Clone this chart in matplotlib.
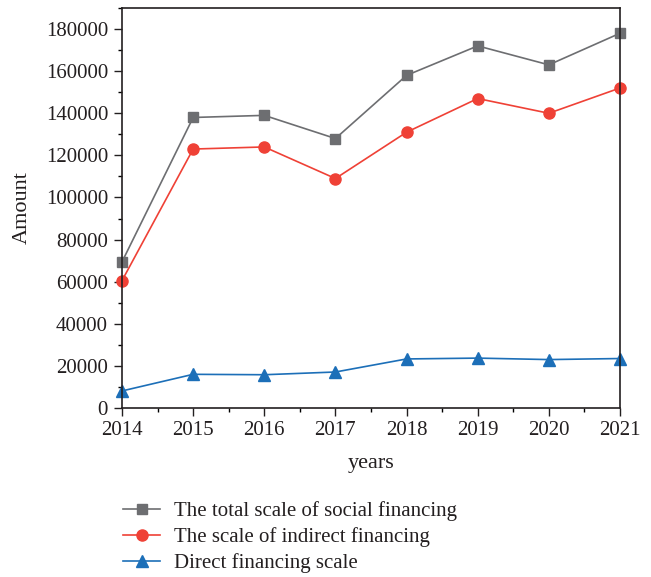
import matplotlib
matplotlib.use("Agg")
import matplotlib.pyplot as plt
from matplotlib.ticker import MultipleLocator

plt.rcParams['font.family'] = ['Liberation Serif', 'DejaVu Serif']

years = [2014, 2015, 2016, 2017, 2018, 2019, 2020, 2021]
total_social = [69400, 138000, 139000, 128000, 158000, 172000, 163000, 178000]
indirect = [60500, 123000, 124000, 109000, 131000, 147000, 140000, 152000]
direct = [8100, 16000, 15800, 17100, 23300, 23700, 23000, 23500]
labels = ["The total scale of social financing",
          "The scale of indirect financing",
          "Direct financing scale"]

fig = plt.figure(figsize=(6.51, 5.77), dpi=100)
ax = fig.add_axes([122/651, 1-408/577, (620-122)/651, 400/577])

ax.plot(years, total_social, color='#6d6e71', marker='s', markersize=7, lw=1.2, label=labels[0], clip_on=False)
ax.plot(years, indirect, color='#ef4136', marker='o', markersize=8, lw=1.2, label=labels[1], clip_on=False)
ax.plot(years, direct, color='#1c6fb8', marker='^', markersize=9, lw=1.2, label=labels[2], clip_on=False)

ax.set_xlim(2014, 2021)
ax.set_ylim(0, 190000)
ax.set_xticks(years)
ax.set_yticks(range(0, 180001, 20000))
ax.xaxis.set_minor_locator(MultipleLocator(0.5))
ax.yaxis.set_minor_locator(MultipleLocator(10000))
ax.tick_params(axis='both', which='major', direction='out', length=6, width=1, labelsize=15, colors='#231f20')
ax.tick_params(axis='both', which='minor', direction='out', length=3, width=1)
ax.tick_params(axis='y', which='major', pad=4)
for s in ax.spines.values():
    s.set_color('#231f20')
    s.set_linewidth(1.2)

ax.set_xlabel('years', fontsize=16, color='#231f20', labelpad=10)
ax.set_ylabel('Amount', fontsize=16, color='#231f20', labelpad=10)

leg = fig.legend(loc='upper left', bbox_to_anchor=(113/651, 1-491/577), frameon=False,
                 fontsize=15, handlelength=1.75, labelspacing=0.28, handletextpad=0.7,
                 borderpad=0, labelcolor='#231f20')

fig.savefig('out.png', dpi=100)
